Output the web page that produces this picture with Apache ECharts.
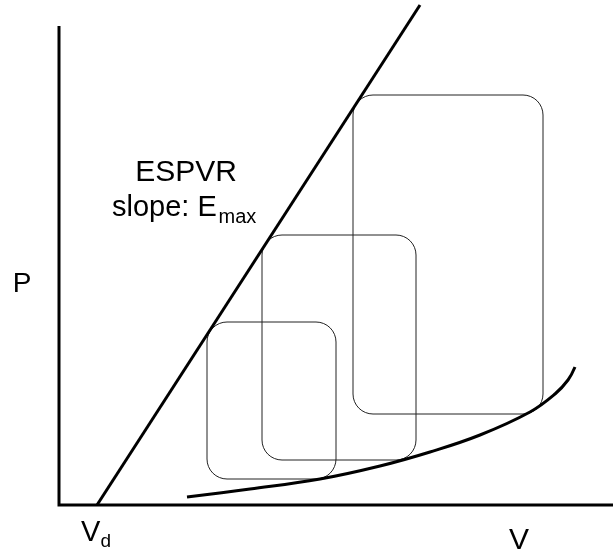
<!DOCTYPE html>
<html>
<head>
<meta charset="utf-8">
<script src="https://cdn.jsdelivr.net/npm/echarts@6/dist/echarts.min.js"></script>
<style>html,body{margin:0;padding:0;background:#fff;overflow:hidden}#c{width:614px;height:558px}</style>
</head>
<body>
<div id="c"></div>
<script>
// Axis extents (volume, pressure), arbitrary units
var vMax = 554;
var pMax = 479;
// ESPVR line
var espvrV = [38, 361];
var espvrP = [0, 500];
// EDPVR curve
var edpvrV = [128, 191, 261, 321, 371, 421, 471, 496, 509, 516];
var edpvrP = [8, 16, 26, 39, 53, 70, 93, 111, 125, 138];
// PV loops: [V min, P min, V max, P max]
var loopSmall = [148, 26, 277, 183];
var loopMid = [203, 45, 357, 270];
var loopLarge = [294, 91, 484, 410];
var loops = [loopSmall, loopMid, loopLarge];

var chart = echarts.init(document.getElementById('c'), null, {renderer: 'canvas'});
var font = '"Liberation Sans", Arial, sans-serif';
function zip(a, b) { return a.map(function (v, i) { return [v, b[i]]; }); }
function txt(s, x, y, size, align) {
  return {
    type: 'text', x: x, y: y, silent: true,
    style: {text: s, font: size + 'px ' + font, fill: '#000', align: align, verticalAlign: 'middle'}
  };
}
var hidden = {
  axisLine: {show: false}, axisTick: {show: false}, axisLabel: {show: false},
  splitLine: {show: false}, minorTick: {show: false}
};

chart.setOption({
  animation: false,
  backgroundColor: '#fff',
  grid: {left: 59, top: 26, right: 0, bottom: 53, containLabel: false},
  xAxis: Object.assign({type: 'value', min: 0, max: 555}, hidden),
  yAxis: Object.assign({type: 'value', min: 0, max: pMax}, hidden),
  series: [
    {
      type: 'line', clip: false, symbol: 'none',
      data: [[0, pMax], [0, 0], [vMax, 0]],
      lineStyle: {color: '#000', width: 3, cap: 'butt', join: 'miter'},
      z: 4
    },
    {
      type: 'custom',
      clip: false,
      data: loops,
      renderItem: function (params, api) {
        var tl = api.coord([api.value(0), api.value(3)]);
        var br = api.coord([api.value(2), api.value(1)]);
        return {
          type: 'rect',
          shape: {x: tl[0], y: tl[1], width: br[0] - tl[0], height: br[1] - tl[1], r: 20},
          style: {fill: 'none', stroke: '#222', lineWidth: 1}
        };
      },
      z: 2
    },
    {
      type: 'line', clip: false, symbol: 'none',
      data: zip(espvrV, espvrP),
      lineStyle: {color: '#000', width: 3},
      z: 3
    },
    {
      type: 'line', clip: false, symbol: 'none', smooth: 0.4,
      data: zip(edpvrV, edpvrP),
      lineStyle: {color: '#000', width: 3},
      z: 3
    }
  ],
  graphic: [
    txt('ESPVR', 186, 173, 30, 'center'),
    txt('slope: E', 112, 208, 29, 'left'),
    txt('max', 218.5, 217, 20, 'left'),
    txt('P', 22, 284, 28, 'center'),
    txt('V', 81, 532.5, 29, 'left'),
    txt('d', 100.5, 541.5, 19, 'left'),
    txt('V', 519, 541, 30, 'center')
  ]
});
</script>
</body>
</html>
